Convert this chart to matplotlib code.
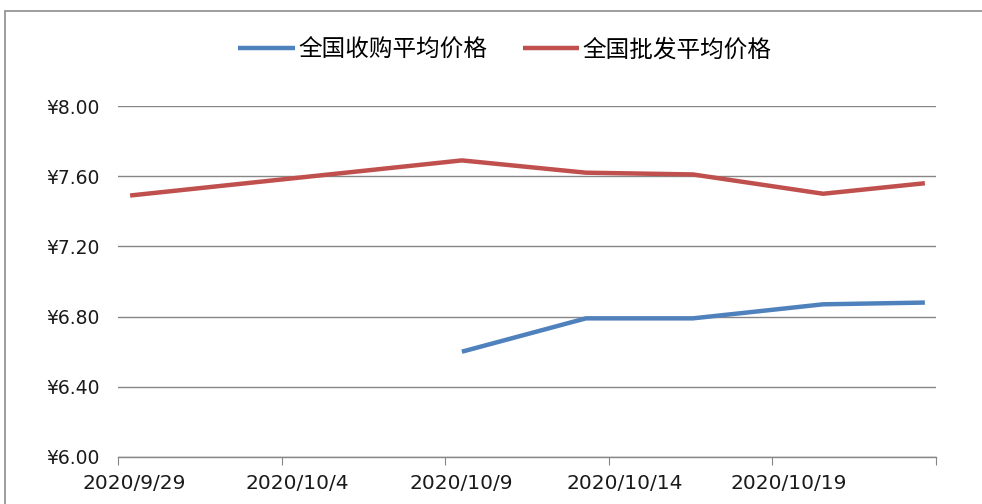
import matplotlib
matplotlib.use("Agg")
import matplotlib.pyplot as plt
from matplotlib.patches import Rectangle

plt.rcParams['font.family'] = ['Noto Sans CJK SC', 'DejaVu Sans']

# Data (x = days since 2020/9/29)
wholesale_x = [0.37, 10.51, 14.30, 17.57, 21.55, 24.66]
wholesale_y = [7.49, 7.69, 7.62, 7.61, 7.50, 7.56]
purchase_x = [10.51, 14.30, 17.57, 21.55, 24.66]
purchase_y = [6.60, 6.79, 6.79, 6.87, 6.88]
series_names = ['全国收购平均价格', '全国批发平均价格']
x_ticks = [0, 5, 10, 15, 20, 25]
x_labels = ['2020/9/29', '2020/10/4', '2020/10/9', '2020/10/14', '2020/10/19']
y_ticks = [6.00, 6.40, 6.80, 7.20, 7.60, 8.00]
y_labels = ['¥6.00', '¥6.40', '¥6.80', '¥7.20', '¥7.60', '¥8.00']

W, H = 982, 504
fig = plt.figure(figsize=(W / 100, H / 100), dpi=100)
ax = fig.add_axes([118 / W, (H - 457) / H, 818 / W, 351 / H])

blue = '#4F81BD'
red = '#C0504D'
grid_c = '#868686'

ax.plot(purchase_x, purchase_y, color=blue, lw=3.2, solid_capstyle='butt', label=series_names[0], zorder=3)
ax.plot(wholesale_x, wholesale_y, color=red, lw=3.2, solid_capstyle='butt', label=series_names[1], zorder=3)

ax.set_xlim(0, 25)
ax.set_ylim(6.0, 8.0)

# major ticks: marks only; minor ticks: labels, offset slightly right like the original
ax.set_xticks(x_ticks)
ax.set_xticklabels([''] * len(x_ticks))
label_offset = 16 / (818 / 25)  # ~16 px in data units
ax.set_xticks([t + label_offset for t in x_ticks[:len(x_labels)]], minor=True)
ax.set_xticklabels(x_labels, minor=True, fontsize=14.5, family='DejaVu Sans')

ax.set_yticks(y_ticks)
ax.set_yticklabels(y_labels, fontsize=13.5, family='DejaVu Sans')

ax.yaxis.grid(True, color=grid_c, lw=1)
ax.set_axisbelow(True)
for s in ['top', 'right', 'left']:
    ax.spines[s].set_visible(False)
ax.spines['bottom'].set_color(grid_c)
ax.spines['bottom'].set_linewidth(1)
ax.tick_params(axis='x', which='major', direction='out', length=6, color=grid_c)
ax.tick_params(axis='x', which='minor', length=6, width=0, pad=6, labelcolor='#1a1a1a')
ax.tick_params(axis='y', length=0, pad=13, labelcolor='#1a1a1a')

leg = fig.legend(loc='center', bbox_to_anchor=(505 / W, (H - 50) / H), ncol=2, frameon=False,
                 fontsize=17, handlelength=2.4, handletextpad=0.15, columnspacing=1.5)

fig.add_artist(Rectangle((5 / W, -0.1), 1.2, (H - 10.5) / H + 0.1, transform=fig.transFigure,
                         fill=False, edgecolor='#8c8c8c', lw=1.2))

fig.savefig('out.png', dpi=100)
